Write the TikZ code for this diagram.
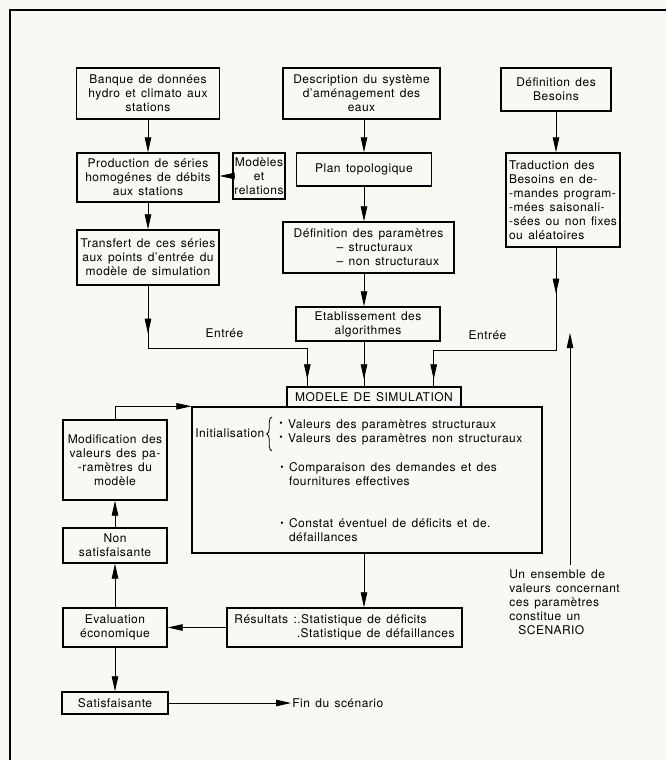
\documentclass[tikz,border=0pt]{standalone}
\usepackage{fontspec}
\setmainfont[LetterSpace=4,WordSpace=1.4]{TeX Gyre Heros}
\usetikzlibrary{arrows.meta,decorations.markings,decorations.pathreplacing}
\definecolor{papier}{RGB}{248,248,244}
\newcommand\corps{\fontsize{12}{14}\selectfont}
\newcommand\puce{\raisebox{0.2ex}{\scalebox{0.8}{\textbullet}}}
\tikzset{
  boite/.style={draw, line width=1.4pt, inner sep=2pt, align=center},
  pointe/.style={postaction={decorate}, decoration={markings,
      mark=at position #1 with {\arrow{>}}}},
  pointes/.style 2 args={postaction={decorate}, decoration={markings,
      mark=at position #1 with {\arrow{>}},
      mark=at position #2 with {\arrow{>}}}},
}
\begin{document}
\begin{tikzpicture}[x=1pt, y=-1pt, font=\corps, line width=0.8pt,
    >={Triangle[length=15pt,width=6.5pt]}]
  \fill[papier] (0,0) rectangle (666,760);
  \useasboundingbox (0,0) rectangle (666,760);
  \draw[line width=1.3pt] (10,760) -- (10,10) -- (666,10);

  % colonne des donnees
  \node[boite, minimum width=143pt, minimum height=51pt] (banque) at (148,93.5)
      {Banque de données\\hydro et climato aux\\stations};
  \node[boite, minimum width=142pt, minimum height=49pt] (prod) at (148,177.5)
      {Production de séries\\homogénes de débits\\aux stations};
  \node[boite, inner xsep=0.5pt, minimum width=52pt, minimum height=46pt] (modeles) at (259,176)
      {Modèles\\et\\relations};
  \node[boite, minimum width=142pt, minimum height=55pt] (transfert) at (148,257.5)
      {Transfert de ces séries\\aux points d'entrée du\\modèle de simulation};

  % colonne du systeme
  \node[boite, minimum width=157pt, minimum height=51pt] (descr) at (361.5,93.5)
      {Description du système\\d'aménagement des\\eaux};
  \node[boite, minimum width=135pt, minimum height=33pt] (plan) at (364,169.5)
      {Plan topologique};
  \node[boite, align=left, minimum width=171pt, minimum height=51pt] (defparam) at (368.5,247.5)
      {Définition des paramètres\\\hspace*{43pt}– structuraux\\\hspace*{43pt}– non structuraux};
  \node[boite, minimum width=144pt, minimum height=34pt] (etab) at (368,324)
      {Etablissement des\\algorithmes};

  % colonne des besoins
  \node[boite, minimum width=110pt, minimum height=43pt] (besoins) at (556,89.5)
      {Définition des\\Besoins};
  \node[boite, align=left, minimum width=114pt, minimum height=94pt] (trad) at (563,200)
      {Traduction des\\Besoins en de-\\-mandes program-\\-mées saisonali-\\-sées ou non fixes\\ou aléatoires};

  % modele de simulation
  \node[boite, minimum width=350pt, minimum height=146pt] (sim) at (367,480) {};
  \node[boite, fill=papier, inner sep=1pt, minimum width=174pt, minimum height=20pt] (modele) at (374,397)
      {MODELE DE SIMULATION};
  \node[anchor=west, inner sep=0pt] (init) at (195,433) {Initialisation};
  \draw[decorate, decoration={brace, amplitude=5pt}]
      ([xshift=7pt,yshift=-18pt]init.east) -- ([xshift=7pt,yshift=16pt]init.east);
  \node[anchor=west, align=left, inner sep=0pt] (val) at (279,432)
      {\puce\ Valeurs des paramètres structuraux\\\puce\ Valeurs des paramètres non structuraux};
  \node[anchor=west, align=left, inner sep=0pt] (comp) at (280,474)
      {\puce\ Comparaison des demandes et des\\\phantom{\puce\ }fournitures effectives};
  \node[anchor=west, align=left, inner sep=0pt] (const) at (280,530)
      {\puce\ Constat éventuel de déficits et de.\\\phantom{\puce\ }défaillances};

  % resultats et evaluation
  \node[boite, align=left, minimum width=235pt, minimum height=39pt] (resultats) at (344.5,627.5)
      {Résultats :.Statistique de déficits\\\phantom{Résultats :}.Statistique de défaillances};
  \node[boite, minimum width=104pt, minimum height=39pt] (eval) at (115,627.5)
      {Evaluation\\économique};
  \node[boite, minimum width=104pt, minimum height=35pt] (nonsat) at (115,545.5)
      {Non\\satisfaisante};
  \node[boite, minimum width=104pt, minimum height=80pt] (modif) at (115,460)
      {Modification des\\valeurs des pa-\\-ramètres du\\modèle};
  \node[boite, minimum width=106pt, minimum height=22pt] (sat) at (115,703)
      {Satisfaisante};
  \node[anchor=west, inner sep=1pt] (fin) at (291,703) {Fin du scénario};
  \node[anchor=north west, align=left, inner sep=0pt] (scenario) at (509,569)
      {Un ensemble de\\valeurs concernant\\ces paramètres\\constitue un\\\hspace*{9pt}SCENARIO};

  \coordinate (coudeG) at (148,348);
  \coordinate (coudeD) at (556,350);
  \coordinate (haut) at (570,333);

  \draw[->] (banque) -- (prod);
  \draw[->] (modeles) -- (modeles -| prod.east);
  \draw[->] (prod) -- (transfert);
  \draw[pointes={48pt}{-7pt}] (transfert) -- (coudeG) -| ([xshift=21pt]modele.north west)
      node[above=7pt, pos=0.24] (entreeg) {Entrée};
  \draw[->] (descr.south -| plan) -- (plan);
  \draw[->] (plan) -- (defparam.north -| plan);
  \draw[->] (defparam.south -| plan) -- (etab.north -| plan);
  \draw[pointe=-7pt] (etab.south -| plan) -- (modele.north -| plan);
  \draw[->] (besoins) -- (trad.north -| besoins);
  \draw[pointes={46pt}{-7pt}] (trad.south -| besoins) -- (coudeD) -| ([xshift=-28pt]modele.north east)
      node[above=7pt, pos=0.28] (entreed) {Entrée};
  \draw[->] (sim.south -| plan) -- (resultats.north -| plan);
  \draw[->] (resultats) -- (eval);
  \draw[->] (eval) -- (nonsat);
  \draw[->] (nonsat) -- (modif);
  \draw[->] (modif.north) |- (sim.north west);
  \draw[->] (eval) -- (sat);
  \draw[->] (sat) -- (fin);
  \draw[->, shorten <=4pt] (scenario.north -| haut) -- (haut);
\end{tikzpicture}
\end{document}
